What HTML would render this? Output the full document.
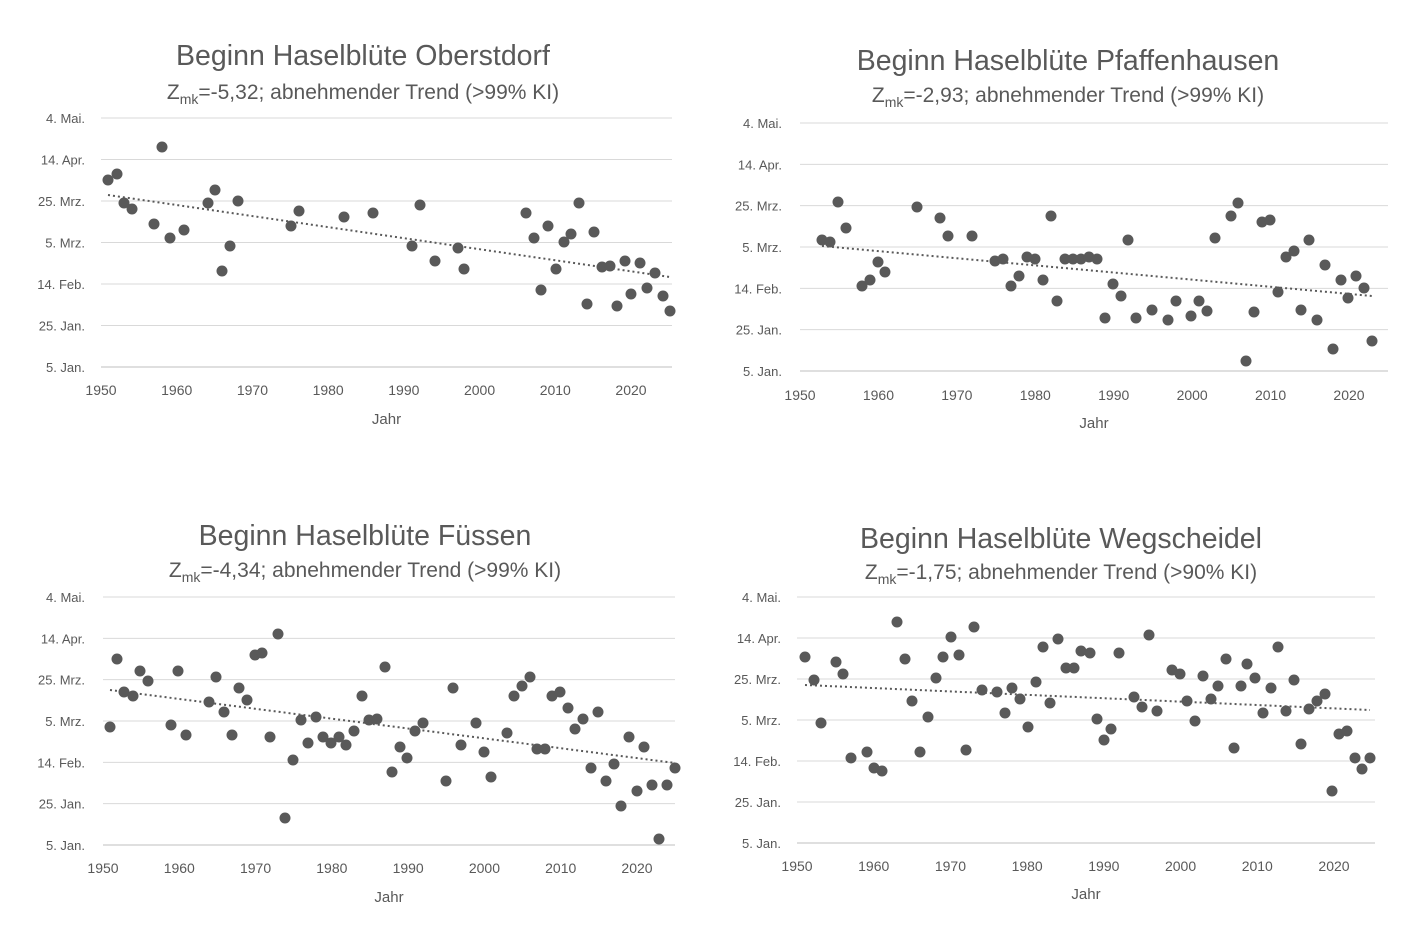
<!DOCTYPE html>
<html><head><meta charset="utf-8"><style>
html,body{margin:0;padding:0;background:#fff;}
svg{display:block;font-family:"Liberation Sans",Arial,sans-serif;}
</style></head><body>
<svg id="s" width="1422" height="935" viewBox="0 0 1422 935" xmlns="http://www.w3.org/2000/svg"></svg>
<script>
const NS="http://www.w3.org/2000/svg",S=document.getElementById('s');
function el(t,a,txt){const e=document.createElementNS(NS,t);for(const k in a)e.setAttribute(k,a[k]);if(txt!==undefined)e.textContent=txt;S.appendChild(e);return e;}
const labels=["4. Mai.","14. Apr.","25. Mrz.","5. Mrz.","14. Feb.","25. Jan.","5. Jan."];
const P=[
{x0:101,x1:672,y0:118,y1:367,x1950:101,x2020:631,ylr:85,xl:390,jahr:419,tc:363,ty:55,sy:92,z:"-5,32",ki:">99% KI",title:"Beginn Haselblüte Oberstdorf",
tr:[108,195,670,277],
pts:[[108,180],[117,174],[124,203],[132,209],[154,224],[162,147],[170,238],[184,230],[208,203],[215,190],[222,271],[230,246],[238,201],[291,226],[299,211],[344,217],[373,213],[412,246],[420,205],[435,261],[458,248],[464,269],[526,213],[534,238],[541,290],[548,226],[556,269],[564,242],[571,234],[579,203],[587,304],[594,232],[602,267],[610,266],[617,306],[625,261],[631,294],[640,263],[647,288],[655,273],[663,296],[670,311]]},
{x0:800,x1:1388,y0:123,y1:371,x1950:800,x2020:1349,ylr:782,xl:395,jahr:423,tc:1068,ty:60,sy:95,z:"-2,93",ki:">99% KI",title:"Beginn Haselblüte Pfaffenhausen",
tr:[822,246,1372,296],
pts:[[822,240],[830,242],[838,202],[846,228],[862,286],[870,280],[878,262],[885,272],[917,207],[940,218],[948,236],[972,236],[995,261],[1003,259],[1011,286],[1019,276],[1027,257],[1035,259],[1043,280],[1051,216],[1057,301],[1065,259],[1073,259],[1081,259],[1089,257],[1097,259],[1105,318],[1113,284],[1121,296],[1128,240],[1136,318],[1152,310],[1168,320],[1176,301],[1191,316],[1199,301],[1207,311],[1215,238],[1231,216],[1238,203],[1246,361],[1254,312],[1262,222],[1270,220],[1278,292],[1286,257],[1294,251],[1301,310],[1309,240],[1317,320],[1325,265],[1333,349],[1341,280],[1348,298],[1356,276],[1364,288],[1372,341]]},
{x0:103,x1:675,y0:597,y1:845,x1950:103,x2020:637,ylr:85,xl:868,jahr:897,tc:365,ty:535,sy:570,z:"-4,34",ki:">99% KI",title:"Beginn Haselblüte Füssen",
tr:[110,690,675,763],
pts:[[110,727],[117,659],[124,692],[133,696],[140,671],[148,681],[171,725],[178,671],[186,735],[209,702],[216,677],[224,712],[232,735],[239,688],[247,700],[255,655],[262,653],[270,737],[278,634],[285,818],[293,760],[301,720],[308,743],[316,717],[323,737],[331,743],[339,737],[346,745],[354,731],[362,696],[369,720],[377,719],[385,667],[392,772],[400,747],[407,758],[415,731],[423,723],[446,781],[453,688],[461,745],[476,723],[484,752],[491,777],[507,733],[514,696],[522,686],[530,677],[537,749],[545,749],[552,696],[560,692],[568,708],[575,729],[583,719],[591,768],[598,712],[606,781],[614,764],[621,806],[629,737],[637,791],[644,747],[652,785],[659,839],[667,785],[675,768]]},
{x0:797,x1:1375,y0:597,y1:843,x1950:797,x2020:1334,ylr:781,xl:866,jahr:894,tc:1061,ty:538,sy:572,z:"-1,75",ki:">90% KI",title:"Beginn Haselblüte Wegscheidel",
tr:[805,685,1370,710],
pts:[[805,657],[814,680],[821,723],[836,662],[843,674],[851,758],[867,752],[874,768],[882,771],[897,622],[905,659],[912,701],[920,752],[928,717],[936,678],[943,657],[951,637],[959,655],[966,750],[974,627],[982,690],[997,692],[1005,713],[1012,688],[1020,699],[1028,727],[1036,682],[1043,647],[1050,703],[1058,639],[1066,668],[1074,668],[1081,651],[1090,653],[1097,719],[1104,740],[1111,729],[1119,653],[1134,697],[1142,707],[1149,635],[1157,711],[1172,670],[1180,674],[1187,701],[1195,721],[1203,676],[1211,699],[1218,686],[1226,659],[1234,748],[1241,686],[1247,664],[1255,678],[1263,713],[1271,688],[1278,647],[1286,711],[1294,680],[1301,744],[1309,709],[1317,701],[1325,694],[1332,791],[1339,734],[1347,731],[1355,758],[1362,769],[1370,758]]}
];
for(const p of P){
  const st=(p.y1-p.y0)/6;
  for(let i=0;i<7;i++){
    const y=p.y0+i*st;
    el('line',{x1:p.x0,x2:p.x1,y1:y,y2:y,stroke:i==6?'#bfbfbf':'#d9d9d9','stroke-width':1});
    el('text',{x:p.ylr,y:y+5,'text-anchor':'end','font-size':13,fill:'#595959'},labels[i]);
  }
  const dx=(p.x2020-p.x1950)/7;
  for(let i=0;i<8;i++){
    el('text',{x:p.x1950+i*dx,y:p.xl+5,'text-anchor':'middle','font-size':14,fill:'#595959'},String(1950+i*10));
  }
  el('text',{x:(p.x0+p.x1)/2,y:p.jahr+5,'text-anchor':'middle','font-size':15,fill:'#595959'},'Jahr');
  el('text',{x:p.tc,y:p.ty+10,'text-anchor':'middle','font-size':28.5,fill:'#595959'},p.title);
  const t=el('text',{x:p.tc,y:p.sy+7,'text-anchor':'middle','font-size':21,fill:'#595959'});
  t.innerHTML='Z<tspan font-size="14" dy="5">mk</tspan><tspan dy="-5">='+p.z+'; abnehmender Trend ('+p.ki.replace('>','&gt;')+')</tspan>';
  el('line',{x1:p.tr[0],y1:p.tr[1],x2:p.tr[2],y2:p.tr[3],stroke:'#595959','stroke-width':2,'stroke-dasharray':'2,3'});
  for(const q of p.pts) el('circle',{cx:q[0],cy:q[1],r:5.5,fill:'#595959'});
}
</script>
</body></html>
